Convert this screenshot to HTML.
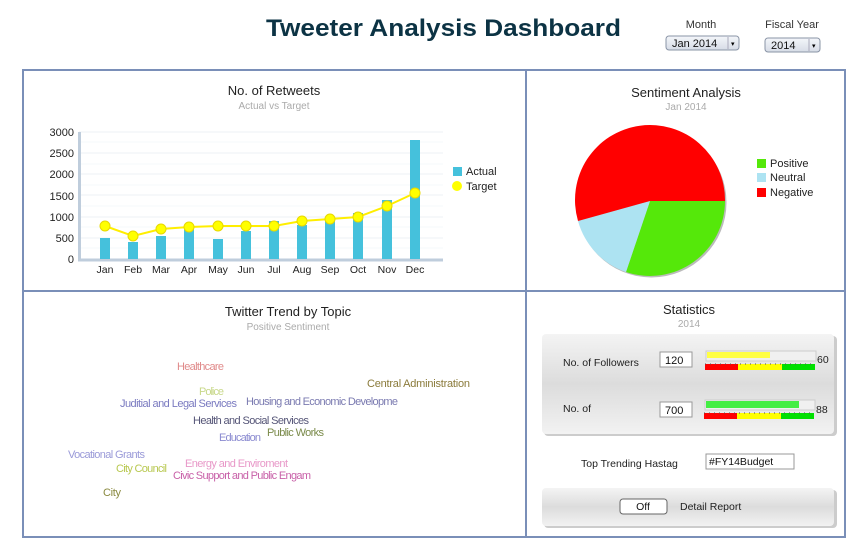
<!DOCTYPE html>
<html><head><meta charset="utf-8"><style>
html,body{margin:0;padding:0;background:#fff;}
svg{display:block;font-family:"Liberation Sans",sans-serif;}
</style></head><body>
<svg width="867" height="549" viewBox="0 0 867 549" xmlns="http://www.w3.org/2000/svg">
<defs>
<linearGradient id="gp" x1="0" y1="0" x2="0" y2="1"><stop offset="0" stop-color="#f4f4f4"/><stop offset="0.5" stop-color="#dcdcdc"/><stop offset="1" stop-color="#f2f2f2"/></linearGradient>
<linearGradient id="gb" x1="0" y1="0" x2="0" y2="1"><stop offset="0" stop-color="#f4f6fa"/><stop offset="1" stop-color="#d6dce6"/></linearGradient>
</defs>
<text x="266" y="36" font-size="24" font-weight="bold" fill="#0c3344" textLength="355" lengthAdjust="spacingAndGlyphs">Tweeter Analysis Dashboard</text>
<text x="701" y="28" font-size="11" fill="#333" text-anchor="middle">Month</text>
<rect x="666" y="36" width="73" height="14" rx="3" fill="url(#gb)" stroke="#8a94a6"/>
<text x="672" y="47" font-size="11" fill="#111">Jan 2014</text>
<line x1="728" y1="37" x2="728" y2="49" stroke="#aab"/><text x="731" y="46" font-size="7">▾</text>
<text x="792" y="28" font-size="11" fill="#333" text-anchor="middle">Fiscal Year</text>
<rect x="765" y="38" width="55" height="14" rx="3" fill="url(#gb)" stroke="#8a94a6"/>
<text x="771" y="49" font-size="11" fill="#111">2014</text>
<line x1="809" y1="39" x2="809" y2="51" stroke="#aab"/><text x="812" y="48" font-size="7">▾</text>
<rect x="23" y="70" width="822" height="467" fill="none" stroke="#7a8fb8" stroke-width="2"/>
<line x1="526" y1="70" x2="526" y2="537" stroke="#7a8fb8" stroke-width="2"/>
<line x1="23" y1="291" x2="845" y2="291" stroke="#7a8fb8" stroke-width="2"/>
<text x="274" y="95" font-size="13" fill="#222" text-anchor="middle">No. of Retweets</text>
<text x="274" y="109" font-size="10" fill="#aaa" text-anchor="middle">Actual vs Target</text>
<g stroke="#eef0f4" stroke-width="1">
<line x1="79" y1="132" x2="443" y2="132"/><line x1="79" y1="153" x2="443" y2="153"/><line x1="79" y1="174" x2="443" y2="174"/><line x1="79" y1="195" x2="443" y2="195"/><line x1="79" y1="217" x2="443" y2="217"/><line x1="79" y1="238" x2="443" y2="238"/>
<line x1="79" y1="142" x2="443" y2="142" stroke="#f6f8fb"/><line x1="79" y1="164" x2="443" y2="164" stroke="#f6f8fb"/><line x1="79" y1="185" x2="443" y2="185" stroke="#f6f8fb"/><line x1="79" y1="206" x2="443" y2="206" stroke="#f6f8fb"/><line x1="79" y1="227" x2="443" y2="227" stroke="#f6f8fb"/><line x1="79" y1="248" x2="443" y2="248" stroke="#f6f8fb"/>
</g>
<line x1="79.5" y1="132" x2="79.5" y2="261" stroke="#bfcddc" stroke-width="3"/>
<line x1="78" y1="260" x2="443" y2="260" stroke="#bfcddc" stroke-width="3"/>
<g font-size="11" fill="#222" text-anchor="end">
<text x="74" y="136">3000</text><text x="74" y="157">2500</text><text x="74" y="178">2000</text><text x="74" y="200">1500</text><text x="74" y="221">1000</text><text x="74" y="242">500</text><text x="74" y="263">0</text>
</g>
<g fill="#45c1dc">
<rect x="100" y="238" width="10" height="21"/><rect x="128" y="242" width="10" height="17"/><rect x="156" y="236" width="10" height="23"/><rect x="184" y="229" width="10" height="30"/><rect x="213" y="239" width="10" height="20"/><rect x="241" y="231" width="10" height="28"/><rect x="269" y="221" width="10" height="38"/><rect x="297" y="225" width="10" height="34"/><rect x="325" y="221" width="10" height="38"/><rect x="353" y="213" width="10" height="46"/><rect x="382" y="200" width="10" height="59"/><rect x="410" y="140" width="10" height="119"/>
</g>
<polyline points="105,226 133,236 161,229 189,227 218,226 246,226 274,226 302,221 330,219 358,217 387,206 415,193" fill="none" stroke="#ffee00" stroke-width="2"/>
<g fill="#ffff00" stroke="#e8d800" stroke-width="1">
<circle cx="105" cy="226" r="5"/><circle cx="133" cy="236" r="5"/><circle cx="161" cy="229" r="5"/><circle cx="189" cy="227" r="5"/><circle cx="218" cy="226" r="5"/><circle cx="246" cy="226" r="5"/><circle cx="274" cy="226" r="5"/><circle cx="302" cy="221" r="5"/><circle cx="330" cy="219" r="5"/><circle cx="358" cy="217" r="5"/><circle cx="387" cy="206" r="5"/><circle cx="415" cy="193" r="5"/>
</g>
<g font-size="10.5" fill="#222" text-anchor="middle">
<text x="105" y="273">Jan</text><text x="133" y="273">Feb</text><text x="161" y="273">Mar</text><text x="189" y="273">Apr</text><text x="218" y="273">May</text><text x="246" y="273">Jun</text><text x="274" y="273">Jul</text><text x="302" y="273">Aug</text><text x="330" y="273">Sep</text><text x="358" y="273">Oct</text><text x="387" y="273">Nov</text><text x="415" y="273">Dec</text>
</g>
<rect x="453" y="167" width="9" height="9" fill="#45c1dc"/><text x="466" y="175" font-size="11" fill="#222">Actual</text>
<circle cx="457" cy="186" r="5" fill="#ffff00"/><text x="466" y="190" font-size="11" fill="#222">Target</text>
<text x="686" y="97" font-size="13" fill="#222" text-anchor="middle">Sentiment Analysis</text>
<text x="686" y="110" font-size="10" fill="#aaa" text-anchor="middle">Jan 2014</text>
<circle cx="651.5" cy="202.5" r="75" fill="#777" opacity="0.5"/>
<path d="M650,201 L725,201 A75,75 0 0 1 626,272 Z" fill="#55e80a"/>
<path d="M650,201 L626,272 A75,75 0 0 1 578,221 Z" fill="#ade3f2"/>
<path d="M650,201 L578,221 A75,75 0 1 1 725,201 Z" fill="#ff0000"/>
<rect x="757" y="159" width="9" height="9" fill="#55e80a"/><text x="770" y="167" font-size="11" fill="#222">Positive</text>
<rect x="757" y="173" width="9" height="9" fill="#ade3f2"/><text x="770" y="181" font-size="11" fill="#222">Neutral</text>
<rect x="757" y="188" width="9" height="9" fill="#ff0000"/><text x="770" y="196" font-size="11" fill="#222">Negative</text>
<text x="288" y="316" font-size="13" fill="#222" text-anchor="middle">Twitter Trend by Topic</text>
<text x="288" y="330" font-size="10" fill="#aaa" text-anchor="middle">Positive Sentiment</text>
<g font-size="11" lengthAdjust="spacingAndGlyphs">
<text x="177" y="370" fill="#e08a8a" textLength="47">Healthcare</text>
<text x="367" y="387" fill="#8a7a3a" textLength="103">Central  Administration</text>
<text x="199" y="395" fill="#c8d88a" textLength="25">Police</text>
<text x="120" y="407" fill="#7a7ac0" textLength="117">Juditial and Legal Services</text>
<text x="246" y="405" fill="#7a7ab0" textLength="152">Housing and Economic Developme</text>
<text x="193" y="424" fill="#555577" textLength="116">Health and Social Services</text>
<text x="267" y="436" fill="#7a8a4a" textLength="57">Public Works</text>
<text x="219" y="441" fill="#8a8ad0" textLength="42">Education</text>
<text x="68" y="458" fill="#9a9ad8" textLength="77">Vocational Grants</text>
<text x="185" y="467" fill="#e898c8" textLength="103">Energy and Enviroment</text>
<text x="116" y="472" fill="#b8c850" textLength="51">City Council</text>
<text x="173" y="479" fill="#c860a8" textLength="138">Civic Support and Public Engam</text>
<text x="103" y="496" fill="#8a8a40" textLength="18">City</text>
</g>
<text x="689" y="314" font-size="13" fill="#222" text-anchor="middle">Statistics</text>
<text x="689" y="327" font-size="10" fill="#aaa" text-anchor="middle">2014</text>
<rect x="544" y="336" width="293" height="100" rx="4" fill="#999" opacity="0.5"/>
<rect x="542" y="334" width="292" height="100" rx="4" fill="url(#gp)"/>
<text x="563" y="366" font-size="10.5" fill="#222">No. of  Followers</text>
<rect x="660" y="352" width="32" height="15" fill="#fff" stroke="#999"/><text x="665" y="364" font-size="11" fill="#111">120</text>
<rect x="706" y="351" width="110" height="10" fill="#f0f0f0" stroke="#ccc"/>
<rect x="707" y="352" width="63" height="6" fill="#ffff44"/>
<rect x="705" y="364" width="33" height="6" fill="#ff0000"/><rect x="738" y="364" width="44" height="6" fill="#ffff00"/><rect x="782" y="364" width="33" height="6" fill="#00e000"/>
<line x1="705" y1="364" x2="815" y2="364" stroke="#555" stroke-dasharray="1,4"/>
<text x="817" y="363" font-size="10.5" fill="#222">60</text>
<text x="563" y="412" font-size="10.5" fill="#222">No. of</text>
<rect x="660" y="402" width="32" height="15" fill="#fff" stroke="#999"/><text x="665" y="414" font-size="11" fill="#111">700</text>
<rect x="705" y="400" width="110" height="10" fill="#f0f0f0" stroke="#ccc"/>
<rect x="706" y="401" width="93" height="7" fill="#44ee44"/>
<rect x="704" y="413" width="33" height="6" fill="#ff0000"/><rect x="737" y="413" width="44" height="6" fill="#ffff00"/><rect x="781" y="413" width="33" height="6" fill="#00e000"/>
<line x1="704" y1="413" x2="814" y2="413" stroke="#555" stroke-dasharray="1,4"/>
<text x="816" y="413" font-size="10.5" fill="#222">88</text>
<text x="581" y="467" font-size="10.5" fill="#222">Top Trending Hastag</text>
<rect x="706" y="454" width="88" height="15" fill="#fff" stroke="#999"/><text x="709" y="465" font-size="10.5" fill="#111">#FY14Budget</text>
<rect x="544" y="490" width="293" height="38" rx="4" fill="#999" opacity="0.5"/>
<rect x="542" y="488" width="292" height="38" rx="4" fill="url(#gp)"/>
<rect x="620" y="499" width="47" height="15" rx="3" fill="#fff" stroke="#666"/><text x="643" y="510" font-size="10.5" fill="#111" text-anchor="middle">Off</text>
<text x="680" y="510" font-size="10.5" fill="#222">Detail Report</text>
</svg>
</body></html>
